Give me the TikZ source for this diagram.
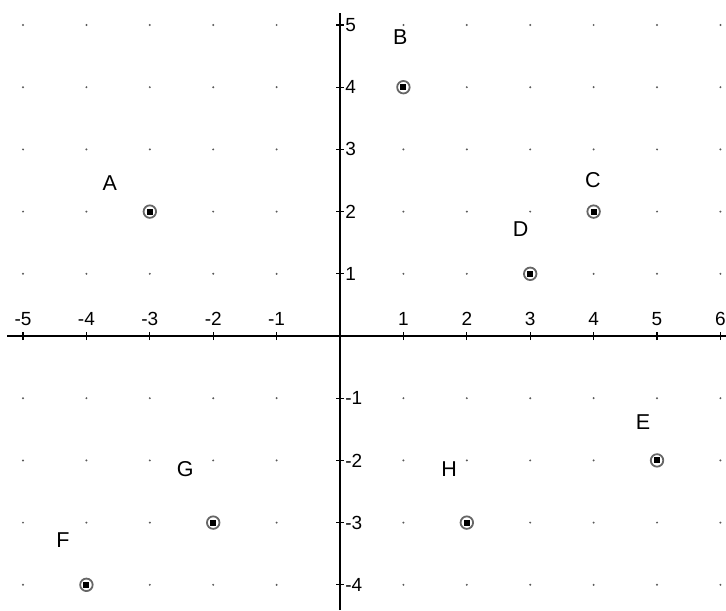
\documentclass[tikz,border=0pt]{standalone}
\usepackage{fontspec}
\setmainfont{Liberation Sans}
\begin{document}
\begin{tikzpicture}[x=63.4pt,y=62.2pt,
  axis/.style={line width=1.6pt,black},
  tick/.style={line width=1.3pt,black},
  gdot/.style={fill=black!65},
  ticklbl/.style={font=\fontsize{19}{21}\selectfont,inner sep=0pt},
  ptlbl/.style={font=\fontsize{21.5}{24}\selectfont,inner sep=0pt},
  ptmark/.style={circle,draw=black!60,line width=1.8pt,minimum size=12.5pt,inner sep=0pt,
    path picture={\fill[black] ([xshift=-3pt,yshift=-3pt]path picture bounding box.center) rectangle ([xshift=3pt,yshift=3pt]path picture bounding box.center);}}
]
\useasboundingbox (-5.363,-4.405) rectangle (6.088,5.402);
% grid dots
\foreach \i in {-5,...,6}{
  \foreach \j in {-4,...,5}{
    \ifnum\i=0\else\ifnum\j=0\else
      \fill[gdot] (\i,\j) circle (1.1pt);
    \fi\fi
  }
}
% axes
\coordinate (xl) at (-5.25,0);
\coordinate (xr) at (6.088,0);
\coordinate (yt) at (0,5.19);
\coordinate (yb) at (0,-4.405);
\draw[axis] (xl) -- (xr);
\draw[axis] (yb) -- (yt);
% x ticks and labels
\foreach \i in {-5,...,-1,1,2,...,6}{
  \draw[tick] (\i,0) ++(0,-4pt) -- ++(0,8pt);
  \node[ticklbl] (x\i) at (\i,0.27) {\i};
}
% y ticks and labels
\foreach \j in {-4,...,-1,1,2,...,5}{
  \draw[tick] (0,\j) ++(-4pt,0) -- ++(8pt,0);
  \node[ticklbl,anchor=west] (y\j) at (0.08,\j) {\j};
}
% points
\node[ptmark] (A) at (-3,2) {};
\node[ptmark] (B) at (1,4) {};
\node[ptmark] (C) at (4,2) {};
\node[ptmark] (D) at (3,1) {};
\node[ptmark] (E) at (5,-2) {};
\node[ptmark] (F) at (-4,-4) {};
\node[ptmark] (G) at (-2,-3) {};
\node[ptmark] (H) at (2,-3) {};
% labels
\node[ptlbl] (lA) at (-3.63,2.46) {A};
\node[ptlbl] (lB) at (0.95,4.8) {B};
\node[ptlbl] (lC) at (3.99,2.51) {C};
\node[ptlbl] (lD) at (2.85,1.72) {D};
\node[ptlbl] (lE) at (4.78,-1.38) {E};
\node[ptlbl] (lF) at (-4.37,-3.28) {F};
\node[ptlbl] (lG) at (-2.44,-2.14) {G};
\node[ptlbl] (lH) at (1.72,-2.14) {H};
\end{tikzpicture}
\end{document}
